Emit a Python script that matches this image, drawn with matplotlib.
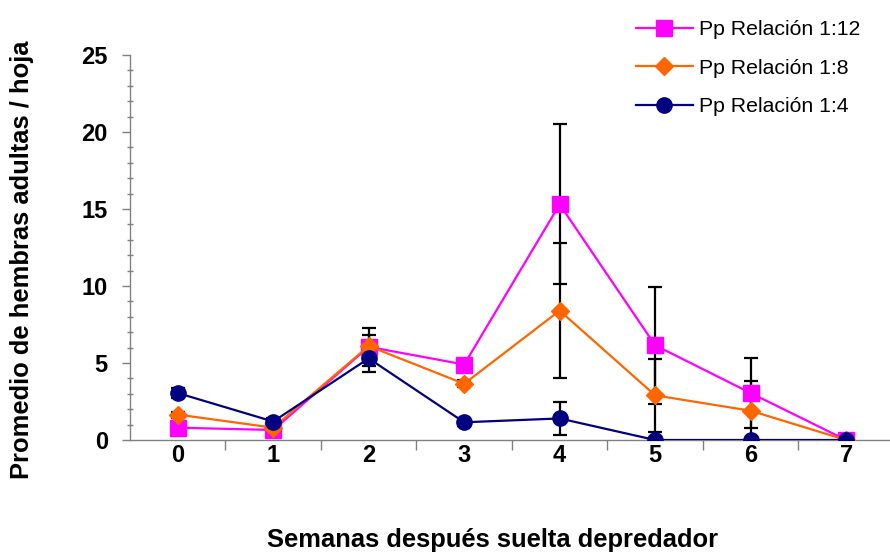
import matplotlib
matplotlib.use("Agg")
import matplotlib.pyplot as plt
from matplotlib.ticker import MultipleLocator, FixedLocator

plt.rcParams["font.family"] = ["Liberation Sans", "DejaVu Sans"]

semanas = [0, 1, 2, 3, 4, 5, 6, 7]
etiquetas = ["0", "1", "2", "3", "4", "5", "6", "7"]

rel_12 = [0.8, 0.65, 6.05, 4.9, 15.3, 6.15, 3.05, 0.0]
err_12 = [0.2, 0.1, 1.25, 0.3, 5.2, 3.8, 2.25, 0.0]

rel_8 = [1.65, 0.8, 6.1, 3.65, 8.4, 2.9, 1.9, 0.0]
err_8 = [0.2, 0.15, 0.7, 0.22, 4.4, 2.35, 1.9, 0.0]

rel_4 = [3.05, 1.2, 5.3, 1.15, 1.4, 0.0, 0.0, 0.0]
err_4 = [0.3, 0.2, 0.9, 0.25, 1.1, 0.0, 0.0, 0.0]

series = [
    ("Pp Relación 1:12", rel_12, err_12, "#FF00FF", "s", 11),
    ("Pp Relación 1:8", rel_8, err_8, "#FF6600", "D", 9.5),
    ("Pp Relación 1:4", rel_4, err_4, "#000080", "o", 11),
]

fig = plt.figure(figsize=(8.9, 5.52), dpi=100)
ax = fig.add_axes([130 / 890, 112 / 552, 760 / 890, 385 / 552])

# error bars sit underneath the lines and markers
for nombre, vals, errs, color, mk, ms in series:
    ax.errorbar(semanas, vals, yerr=errs, fmt="none", ecolor="black",
                elinewidth=1.6, capsize=5, capthick=1.6, zorder=2)
for nombre, vals, errs, color, mk, ms in series:
    ax.plot(semanas, vals, color=color, lw=1.6, marker=mk, ms=ms,
            markeredgecolor=color, label=nombre, zorder=3)

ax.set_xlim(-0.5, 7.46)
ax.set_ylim(0, 25)

# category-style x axis: labels centred, tick marks between weeks
ax.xaxis.set_major_locator(FixedLocator(semanas))
ax.set_xticklabels(etiquetas)
ax.xaxis.set_minor_locator(FixedLocator([s + 0.5 for s in semanas[:-1]]))
ax.tick_params(axis="x", which="major", length=0, pad=3)
ax.tick_params(axis="x", which="minor", length=7, width=1, color="#808080",
               direction="out")

ax.yaxis.set_major_locator(MultipleLocator(5))
ax.yaxis.set_minor_locator(MultipleLocator(1))
ax.tick_params(axis="y", which="major", length=6, width=1, color="#808080",
               direction="out", pad=10)
ax.tick_params(axis="y", which="minor", length=4, width=1, color="#808080",
               direction="inout")

for lbl in ax.get_xticklabels() + ax.get_yticklabels():
    lbl.set_fontsize(17)
    lbl.set_fontweight("bold")

for side in ("top", "right"):
    ax.spines[side].set_visible(False)
for side in ("left", "bottom"):
    ax.spines[side].set_color("#808080")
    ax.spines[side].set_linewidth(1.0)

fig.text(22 / 890, 1 - 260 / 552, "Promedio de hembras adultas / hoja",
         rotation=90, ha="center", va="center", fontsize=18.4, fontweight="bold")
fig.text(493 / 890, 1 - 540 / 552, "Semanas después suelta depredador",
         ha="center", va="center", fontsize=18.4, fontweight="bold")

fig.legend(loc="upper left", bbox_to_anchor=(636 / 890, 1 - 20 / 552),
           frameon=False, fontsize=15.3, handlelength=2.68, handletextpad=0.28,
           labelspacing=0.92, borderpad=0, borderaxespad=0)

fig.savefig("out.png", dpi=100)
